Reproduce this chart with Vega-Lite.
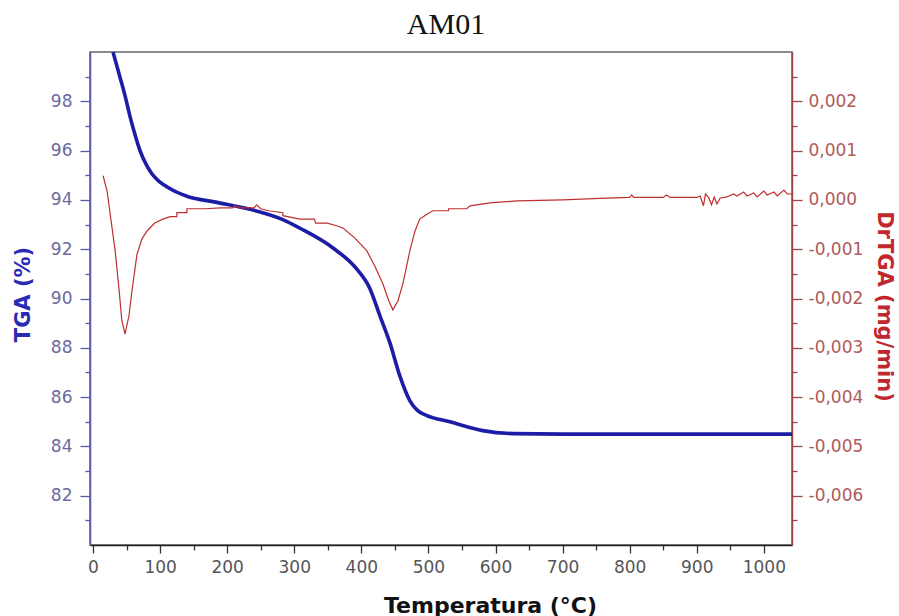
{
  "$schema": "https://vega.github.io/schema/vega-lite/v6.json",
  "autosize": {"type": "none"},
  "width": 702,
  "height": 493,
  "padding": {"left": 90, "top": 52, "right": 107, "bottom": 71},
  "background": "white",
  "title": {"text": "AM01", "font": "Liberation Serif", "fontSize": 30, "fontWeight": "normal", "color": "#111111", "anchor": "middle", "dx": 5, "offset": 12},
  "config": {
    "view": {"stroke": "#666666", "strokeWidth": 1.5},
    "axis": {"labelFont": "DejaVu Sans", "labelFontSize": 17, "titleFont": "DejaVu Sans", "titleFontWeight": "bold", "grid": false, "domainWidth": 1.5, "tickWidth": 1.3}
  },
  "datasets": {
    "tga": [
      {"T": 29.8, "v": 100.0}, {"T": 40, "v": 99.0}, {"T": 48, "v": 98.2}, {"T": 55, "v": 97.4},
      {"T": 62, "v": 96.7}, {"T": 70, "v": 96.0}, {"T": 80, "v": 95.4}, {"T": 88, "v": 95.05},
      {"T": 99.9, "v": 94.72}, {"T": 115, "v": 94.45}, {"T": 140, "v": 94.15}, {"T": 184.8, "v": 93.9},
      {"T": 234, "v": 93.62}, {"T": 283, "v": 93.2}, {"T": 308.5, "v": 92.85}, {"T": 357.7, "v": 92.05},
      {"T": 393, "v": 91.2}, {"T": 412.8, "v": 90.4}, {"T": 427.7, "v": 89.3}, {"T": 442.6, "v": 88.2},
      {"T": 457.5, "v": 86.85}, {"T": 472.4, "v": 85.85}, {"T": 484, "v": 85.45}, {"T": 497.8, "v": 85.25},
      {"T": 532, "v": 85.0}, {"T": 581, "v": 84.64}, {"T": 626, "v": 84.52}, {"T": 700, "v": 84.5},
      {"T": 850, "v": 84.5}, {"T": 1042, "v": 84.5}
    ],
    "dtg": [
      {"T": 15, "v": 0.00049}, {"T": 21, "v": 0.00018}, {"T": 27, "v": -0.00043}, {"T": 33, "v": -0.00103},
      {"T": 39, "v": -0.00185}, {"T": 43, "v": -0.00245}, {"T": 47.7, "v": -0.00272}, {"T": 53.6, "v": -0.00235},
      {"T": 58, "v": -0.00185}, {"T": 65.6, "v": -0.0011}, {"T": 73, "v": -0.00079}, {"T": 80.5, "v": -0.00063},
      {"T": 92, "v": -0.00047}, {"T": 104, "v": -0.00039}, {"T": 115, "v": -0.00034}, {"T": 125, "v": -0.00034},
      {"T": 125, "v": -0.00026}, {"T": 140, "v": -0.00026}, {"T": 140, "v": -0.00018}, {"T": 167, "v": -0.00018},
      {"T": 190, "v": -0.00016}, {"T": 208, "v": -0.00016}, {"T": 212, "v": -0.00012}, {"T": 218, "v": -0.00016},
      {"T": 240, "v": -0.00016}, {"T": 244, "v": -0.00010}, {"T": 250, "v": -0.00018}, {"T": 262, "v": -0.00022},
      {"T": 283, "v": -0.00026}, {"T": 283, "v": -0.00032}, {"T": 308.5, "v": -0.00039},
      {"T": 330, "v": -0.00039}, {"T": 332, "v": -0.00047}, {"T": 349, "v": -0.00047}, {"T": 362, "v": -0.00052},
      {"T": 372.6, "v": -0.00057}, {"T": 390, "v": -0.00077}, {"T": 408, "v": -0.00103}, {"T": 420, "v": -0.00134},
      {"T": 432, "v": -0.0017}, {"T": 441, "v": -0.00205}, {"T": 447, "v": -0.00223}, {"T": 454.5, "v": -0.00205},
      {"T": 462, "v": -0.0017}, {"T": 472.4, "v": -0.00103}, {"T": 480, "v": -0.00063}, {"T": 487, "v": -0.00039},
      {"T": 499, "v": -0.00028}, {"T": 506.7, "v": -0.00022}, {"T": 530, "v": -0.00022}, {"T": 530, "v": -0.00018},
      {"T": 557, "v": -0.00018}, {"T": 562, "v": -0.00012}, {"T": 591.7, "v": -0.00006}, {"T": 632, "v": -0.00002},
      {"T": 700, "v": 0.0}, {"T": 755.6, "v": 0.00003}, {"T": 800, "v": 0.00005}, {"T": 803, "v": 0.0001},
      {"T": 806, "v": 0.00005}, {"T": 850, "v": 0.00005}, {"T": 855, "v": 0.0001}, {"T": 860, "v": 0.00005},
      {"T": 900, "v": 0.00005}, {"T": 905, "v": 0.00008}, {"T": 910, "v": -0.00012}, {"T": 913, "v": 0.00012},
      {"T": 918, "v": 0.00004}, {"T": 922, "v": -0.0001}, {"T": 926, "v": 0.00006}, {"T": 930, "v": -0.00008},
      {"T": 935, "v": 0.00004}, {"T": 945, "v": 0.00006}, {"T": 955, "v": 0.00012}, {"T": 960, "v": 0.00008},
      {"T": 970, "v": 0.00016}, {"T": 975, "v": 0.00008}, {"T": 985, "v": 0.00014}, {"T": 990, "v": 0.00006},
      {"T": 1000, "v": 0.00018}, {"T": 1005, "v": 0.0001}, {"T": 1015, "v": 0.00016}, {"T": 1020, "v": 0.00008},
      {"T": 1030, "v": 0.0002}, {"T": 1035, "v": 0.00012}, {"T": 1042, "v": 0.00012}
    ]
  },
  "encoding": {
    "x": {
      "field": "T", "type": "quantitative",
      "scale": {"domain": [-4.5, 1042], "nice": false, "zero": false},
      "axis": {
        "title": "Temperatura (°C)", "titleFontSize": 22, "titleColor": "#111111",
        "titleX": 400, "titleY": 67, "titleBaseline": "alphabetic", "titleAnchor": "middle",
        "values": [0, 50, 100, 150, 200, 250, 300, 350, 400, 450, 500, 550, 600, 650, 700, 750, 800, 850, 900, 950, 1000],
        "labelExpr": "datum.value % 100 != 0 ? '' : datum.label",
        "format": "d",
        "domainColor": "#222222", "tickColor": "#333333", "labelColor": "#555555",
        "tickSize": {"condition": {"test": "datum.value % 100 != 0", "value": 5}, "value": 8},
        "labelPadding": 6
      }
    }
  },
  "layer": [
    {
      "data": {"name": "tga"},
      "mark": {"type": "line", "color": "#1c1ca6", "strokeWidth": 3.6, "clip": true, "interpolate": "monotone"},
      "encoding": {
        "y": {
          "field": "v", "type": "quantitative",
          "scale": {"domain": [80, 100], "nice": false, "zero": false},
          "axis": {
            "orient": "left", "title": "TGA (%)", "titleFontSize": 21, "titleColor": "#2a2ab4",
            "titleX": -67, "titleY": 242, "titleBaseline": "middle", "titleAnchor": "middle",
            "values": [81, 82, 83, 84, 85, 86, 87, 88, 89, 90, 91, 92, 93, 94, 95, 96, 97, 98, 99],
            "labelExpr": "datum.value % 2 != 0 ? '' : datum.label",
            "domainColor": "#5a5aa6", "tickColor": "#5a5aa6", "labelColor": "#6a6aa0",
            "tickSize": {"condition": {"test": "datum.value % 2 != 0", "value": 5}, "value": 10},
            "labelPadding": 8
          }
        }
      }
    },
    {
      "data": {"name": "dtg"},
      "mark": {"type": "line", "color": "#bf2f2f", "strokeWidth": 1.2, "clip": true},
      "encoding": {
        "y": {
          "field": "v", "type": "quantitative",
          "scale": {"domain": [-0.007, 0.003], "nice": false, "zero": false},
          "axis": {
            "orient": "right", "title": "DrTGA (mg/min)", "titleFontSize": 21, "titleColor": "#c0282d",
            "titleX": 91, "titleY": 254, "titleBaseline": "middle", "titleAnchor": "middle",
            "values": [-0.0065, -0.006, -0.0055, -0.005, -0.0045, -0.004, -0.0035, -0.003, -0.0025, -0.002, -0.0015, -0.001, -0.0005, 0, 0.0005, 0.001, 0.0015, 0.002, 0.0025],
            "labelExpr": "abs(round(datum.value*10000)) % 10 != 0 ? '' : replace(replace(format(datum.value, '.3f'), '.', ','), '\u2212', '-')",
            "domainColor": "#a04545", "tickColor": "#a04545", "labelColor": "#b05a5a",
            "tickSize": {"condition": {"test": "abs(round(datum.value*10000)) % 10 != 0", "value": 5}, "value": 10},
            "labelPadding": 6
          }
        }
      }
    }
  ],
  "resolve": {"scale": {"y": "independent"}}
}
